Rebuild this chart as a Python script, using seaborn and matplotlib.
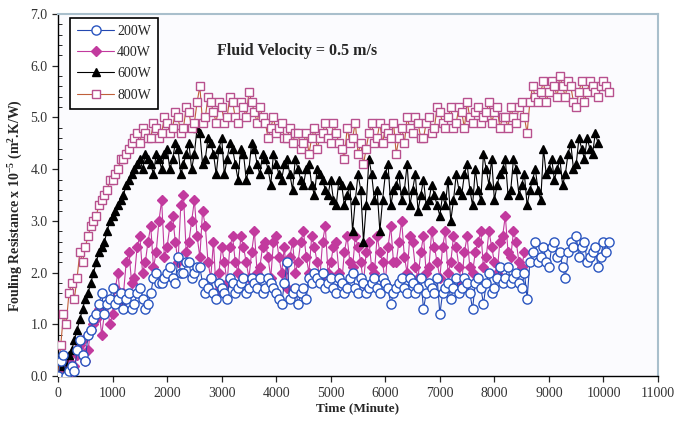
import numpy as np
import pandas as pd
import matplotlib
matplotlib.use("Agg")
import matplotlib.pyplot as plt
import seaborn as sns
from matplotlib.ticker import MultipleLocator, FormatStrFormatter

# fouling resistance (x 1e-5 m2.K/W)
# "_a" readings on the whole hundreds, "_b" readings on the half steps (50, 150, ...)
time_200a = np.arange(0, 10200, 100)
rf_200a = [0.0, 0.4, 0.1, 0.1, 0.7, 0.3, 0.9, 1.2, 1.6, 1.4,
           1.7, 1.5, 1.3, 1.6, 1.4, 1.7, 1.3, 1.6, 2.0, 1.8,
           2.0, 1.9, 2.3, 2.0, 2.2, 2.0, 2.1, 1.6, 1.9, 1.5,
           1.7, 1.5, 1.8, 1.7, 1.9, 1.7, 1.8, 1.9, 1.7, 1.8,
           1.6, 1.4, 2.2, 1.6, 1.4, 1.7, 1.9, 2.0, 1.8, 1.7,
           1.9, 1.6, 1.8, 1.7, 2.0, 1.6, 1.8, 1.7, 1.9, 1.6,
           1.8, 1.4, 1.7, 1.9, 1.6, 1.8, 1.7, 1.3, 1.8, 1.6,
           1.2, 1.7, 1.5, 1.9, 1.7, 1.8, 1.3, 1.9, 1.4, 2.0,
           1.7, 2.1, 1.9, 1.8, 2.0, 1.7, 1.5, 2.4, 2.2, 2.5,
           2.1, 2.6, 2.4, 1.9, 2.6, 2.7, 2.5, 2.2, 2.4, 2.1,
           2.6, 2.6]
time_200b = np.arange(50, 10100, 100)
rf_200b = [0.3, 0.0, 0.2, 0.5, 0.4, 0.8, 1.1, 1.4, 1.2, 1.5,
           1.4, 1.6, 1.5, 1.3, 1.6, 1.5, 1.4, 1.9, 1.8, 1.9,
           2.1, 1.8, 2.0, 2.2, 1.9, 2.1, 1.8, 1.7, 1.6, 1.8,
           1.6, 1.9, 1.6, 1.8, 1.6, 1.9, 1.7, 1.6, 1.9, 1.7,
           1.5, 1.8, 1.5, 1.7, 1.6, 1.5, 1.8, 1.9, 2.0, 1.8,
           1.7, 1.9, 1.6, 1.9, 1.7, 1.9, 1.6, 1.8, 1.7, 1.9,
           1.7, 1.6, 1.8, 1.7, 1.9, 1.6, 1.9, 1.6, 1.7, 1.9,
           1.6, 1.8, 1.7, 1.6, 1.9, 1.6, 1.8, 1.7, 1.8, 1.6,
           1.9, 1.8, 2.1, 1.9, 1.8, 2.0, 2.2, 2.6, 2.3, 2.2,
           2.5, 2.3, 2.1, 2.4, 2.5, 2.3, 2.6, 2.3, 2.5, 2.3,
           2.4]

time_400a = np.arange(0, 8600, 100)
rf_400a = [0.0, 0.1, 0.3, 0.2, 0.6, 0.3, 0.9, 1.1, 0.8, 1.4,
           1.2, 2.0, 1.6, 2.4, 1.9, 2.7, 2.2, 2.9, 2.4, 3.4,
           2.5, 3.1, 2.2, 3.5, 2.6, 3.4, 2.3, 2.9, 1.9, 1.6,
           2.5, 1.8, 2.7, 2.0, 2.5, 1.9, 2.8, 2.1, 2.6, 1.9,
           2.7, 2.0, 1.7, 2.6, 2.2, 2.8, 2.0, 2.5, 1.9, 2.9,
           2.2, 2.6, 1.8, 2.7, 2.1, 2.5, 1.8, 2.6, 2.0, 2.4,
           1.8, 2.9, 2.2, 3.0, 2.0, 2.6, 1.9, 2.7, 2.1, 2.5,
           1.9, 2.8, 2.2, 2.5, 1.8, 2.7, 2.0, 2.6, 2.1, 2.8,
           2.2, 2.6, 3.1, 2.3, 2.6, 2.1]
time_400b = np.arange(50, 8600, 100)
rf_400b = [0.0, 0.2, 0.1, 0.4, 0.7, 0.5, 1.0, 1.3, 1.2, 1.0,
           1.7, 1.4, 2.2, 1.8, 2.5, 2.0, 2.6, 2.1, 3.0, 2.3,
           2.9, 2.6, 3.3, 2.4, 3.0, 2.7, 3.2, 2.2, 2.6, 2.0,
           2.2, 2.5, 2.2, 2.7, 2.2, 2.4, 2.0, 2.5, 2.3, 2.6,
           2.3, 2.5, 2.3, 2.0, 2.6, 2.3, 2.7, 2.2, 2.6, 2.0,
           2.5, 2.0, 2.4, 2.2, 2.7, 2.2, 2.4, 2.1, 2.7, 2.2,
           2.5, 2.2, 2.6, 2.3, 2.7, 2.1, 2.4, 2.0, 2.8, 2.2,
           2.5, 2.0, 2.7, 2.1, 2.4, 2.1, 2.4, 2.8, 2.3, 2.5,
           2.0, 2.7, 2.4, 2.8, 2.2, 2.4]

time_600a = np.arange(0, 10000, 100)
rf_600a = [0.0, 0.3, 0.4, 0.7, 1.1, 1.5, 1.8, 2.2, 2.5, 2.8,
           3.1, 3.3, 3.5, 3.8, 4.0, 4.2, 4.3, 4.1, 4.3, 4.0,
           4.4, 4.2, 4.4, 4.1, 4.5, 4.3, 4.7, 4.2, 4.5, 3.9,
           4.6, 4.2, 4.4, 3.8, 4.3, 4.0, 4.4, 3.9, 4.2, 3.7,
           4.1, 3.8, 4.2, 3.6, 4.0, 3.7, 4.1, 3.5, 3.9, 3.6,
           3.8, 3.3, 3.7, 3.5, 2.8, 3.9, 2.6, 4.2, 3.4, 2.8,
           3.9, 3.3, 3.7, 3.4, 4.1, 3.6, 3.2, 3.8, 3.4, 3.5,
           3.1, 3.3, 3.0, 3.9, 3.5, 4.1, 3.3, 3.6, 4.3, 3.7,
           3.4, 3.9, 4.2, 3.6, 4.0, 3.7, 3.3, 3.8, 3.6, 4.4,
           4.0, 3.8, 4.2, 3.9, 4.5, 4.1, 4.4, 4.6, 4.3, 4.5]
time_600b = np.arange(50, 9900, 100)
rf_600b = [0.2, 0.1, 0.5, 0.9, 1.3, 1.6, 2.0, 2.4, 2.6, 3.0,
           3.2, 3.4, 3.7, 3.9, 4.1, 4.0, 4.2, 3.9, 4.2, 4.3,
           4.0, 4.5, 3.9, 4.3, 4.0, 4.8, 4.1, 4.6, 4.3, 4.4,
           3.9, 4.5, 4.1, 4.4, 3.8, 4.5, 4.1, 4.3, 4.0, 4.3,
           3.9, 4.1, 3.9, 4.2, 3.8, 4.0, 3.7, 4.0, 3.8, 3.5,
           3.4, 3.8, 3.3, 3.7, 3.4, 3.6, 3.3, 3.9, 3.6, 3.4,
           4.1, 3.6, 3.9, 3.6, 3.3, 3.9, 3.5, 3.3, 3.7, 3.3,
           3.5, 3.8, 3.4, 3.6, 3.9, 3.6, 4.0, 3.4, 4.0, 4.2,
           3.7, 4.0, 3.5, 4.2, 3.5, 3.9, 3.6, 4.0, 3.4, 3.9,
           4.2, 4.0, 3.7, 4.3, 4.0, 4.6, 4.2, 4.4, 4.7]

time_800a = np.arange(0, 10200, 100)
rf_800a = [0.0, 1.2, 1.6, 1.5, 2.4, 2.5, 2.9, 3.1, 3.4, 3.6,
           3.8, 4.0, 4.2, 4.4, 4.6, 4.5, 4.7, 4.6, 4.8, 4.7,
           4.9, 4.8, 5.0, 4.8, 5.1, 4.9, 5.6, 5.0, 5.3, 4.9,
           5.2, 5.0, 5.3, 4.9, 5.2, 5.5, 5.1, 5.2, 4.9, 4.8,
           4.7, 4.9, 4.6, 4.5, 4.7, 4.5, 4.3, 4.8, 4.6, 4.9,
           4.5, 4.7, 4.4, 4.8, 4.6, 4.3, 4.1, 4.7, 4.5, 4.9,
           4.8, 4.6, 4.3, 4.8, 5.0, 4.7, 4.9, 4.6, 5.0, 4.8,
           5.1, 4.8, 5.2, 4.9, 5.1, 5.3, 4.9, 5.2, 5.0, 5.3,
           5.1, 4.8, 5.0, 5.2, 4.9, 5.3, 4.7, 5.6, 5.3, 5.7,
           5.5, 5.6, 5.8, 5.4, 5.6, 5.2, 5.7, 5.5, 5.6, 5.4,
           5.7, 5.5]
time_800b = np.arange(50, 10100, 100)
rf_800b = [0.6, 1.0, 1.8, 1.9, 2.2, 2.7, 3.0, 3.3, 3.5, 3.8,
           3.9, 4.2, 4.3, 4.5, 4.7, 4.8, 4.6, 4.9, 4.6, 5.0,
           4.7, 5.1, 4.7, 5.2, 4.8, 5.3, 4.9, 5.4, 5.1, 5.3,
           4.9, 5.4, 5.0, 5.3, 5.0, 5.3, 4.9, 5.0, 4.6, 5.0,
           4.8, 4.6, 4.8, 4.7, 4.4, 4.7, 4.6, 4.4, 4.7, 4.6,
           4.9, 4.5, 4.2, 4.5, 4.9, 4.5, 4.4, 4.9, 4.6, 4.5,
           4.7, 4.9, 4.6, 4.5, 4.8, 5.0, 4.6, 4.9, 4.7, 5.2,
           4.9, 5.0, 4.8, 5.2, 4.8, 5.0, 5.1, 4.9, 5.1, 4.9,
           5.2, 5.0, 4.8, 5.0, 5.2, 5.0, 5.3, 5.4, 5.5, 5.3,
           5.7, 5.4, 5.6, 5.7, 5.3, 5.5, 5.3, 5.7, 5.5, 5.6,
           5.6]

sns.set_style("ticks")
plt.rcParams['font.family'] = ['Liberation Serif', 'DejaVu Serif']
plt.rcParams['mathtext.fontset'] = 'custom'
plt.rcParams['mathtext.rm'] = 'Liberation Serif'
plt.rcParams['mathtext.bf'] = 'Liberation Serif:bold'
plt.rcParams['mathtext.default'] = 'bf'

fig = plt.figure(figsize=(6.77, 4.25), dpi=100)
ax = fig.add_axes([0.0857, 0.115, 0.8863, 0.852])
ax.set_facecolor('#fbfbfe')

# (label, times, values, line colour, marker, marker face, marker edge, size, zorder)
series = [
    ("200W", (time_200a, time_200b), (rf_200a, rf_200b), '#2448b0', 'o', 'white', '#2a55c0', 6.6, 6),
    ("400W", (time_400a, time_400b), (rf_400a, rf_400b), '#c23a9e', 'D', '#c23a9e', '#c23a9e', 5.6, 3),
    ("600W", (time_600a, time_600b), (rf_600a, rf_600b), 'black', '^', 'black', 'black', 6.3, 4),
    ("800W", (time_800a, time_800b), (rf_800a, rf_800b), '#c0603a', 's', 'white', '#b8508e', 5.8, 5),
]

for label, ts, vs, lc, mk, mfc, mec, ms, z in series:
    df = pd.DataFrame({'time': np.concatenate(ts), 'rf': np.concatenate(vs)})
    df = df.sort_values('time')
    sns.lineplot(data=df, x='time', y='rf', estimator=None, sort=False, ax=ax,
                 color=lc, lw=0.8, marker=mk, markersize=ms,
                 markerfacecolor=mfc, markeredgecolor=mec, markeredgewidth=1.0,
                 label=label, zorder=z)

ax.set_xlim(0, 11000)
ax.set_ylim(0, 7.0)
ax.xaxis.set_major_locator(MultipleLocator(1000))
ax.yaxis.set_major_locator(MultipleLocator(1.0))
ax.yaxis.set_minor_locator(MultipleLocator(0.2))
ax.yaxis.set_major_formatter(FormatStrFormatter('%.1f'))
ax.tick_params(axis='both', which='major', labelsize=10, labelcolor='#333333',
               direction='out', length=4, width=0.9)
ax.tick_params(axis='y', which='minor', direction='in', length=3, width=0.7)

for side in ['left', 'bottom']:
    ax.spines[side].set_color('black')
    ax.spines[side].set_linewidth(1.0)
for side in ['top', 'right']:
    ax.spines[side].set_color('#a9bfcc')
    ax.spines[side].set_linewidth(1.5)

ax.set_xlabel('Time (Minute)', fontsize=9.5, fontweight='bold', labelpad=2)
ax.set_ylabel('Fouling Resistance x 10$^{-5}$ (m$^{2}$.K/W)', fontsize=10,
              fontweight='bold', labelpad=2)
ax.yaxis.set_label_coords(-0.055, 0.47)

ax.text(0.265, 0.897, 'Fluid Velocity = 0.5 m/s', transform=ax.transAxes,
        fontsize=11.5, fontweight='bold', va='center', ha='left')

leg = ax.legend(loc='upper left', bbox_to_anchor=(0.02, 0.99), borderaxespad=0,
                fontsize=10, handlelength=2.7, labelspacing=0.6,
                fancybox=False, framealpha=1, edgecolor='black',
                borderpad=0.5, handletextpad=0.2)
leg.get_frame().set_linewidth(1.2)

fig.savefig('out.png', dpi=100)
